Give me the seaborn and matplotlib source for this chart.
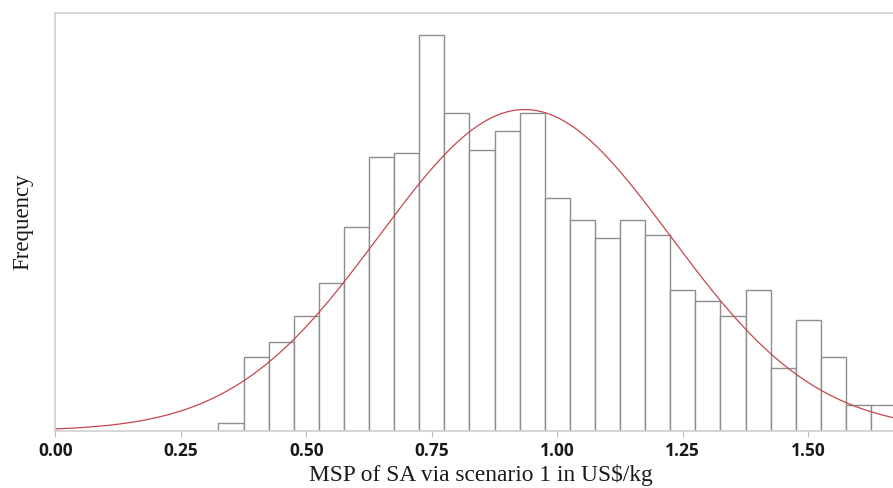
import numpy as np
import pandas as pd
import matplotlib
matplotlib.use("Agg")
import matplotlib.pyplot as plt
import seaborn as sns

# Bin midpoints (US$/kg) and frequencies
bin_mids = [0.35, 0.40, 0.45, 0.50, 0.55, 0.60, 0.65, 0.70, 0.75, 0.80,
            0.85, 0.90, 0.95, 1.00, 1.05, 1.10, 1.15, 1.20, 1.25, 1.30,
            1.35, 1.40, 1.45, 1.50, 1.55, 1.60, 1.65]
counts = [2, 20, 24, 31, 40, 55, 74, 75, 107, 86,
          76, 81, 86, 63, 57, 52, 57, 53, 38, 35,
          31, 38, 17, 30, 20, 7, 7]
bin_width = 0.05

# Fitted normal distribution parameters
fit_mean = 0.935
fit_sd = 0.29

x_ticks = [0.00, 0.25, 0.50, 0.75, 1.00, 1.25, 1.50]
x_tick_labels = ["0.00", "0.25", "0.50", "0.75", "1.00", "1.25", "1.50"]
x_label = "MSP of SA via scenario 1 in US$/kg"
y_label = "Frequency"

sns.set_theme(style="white")
plt.rcParams['font.family'] = ['DejaVu Sans']

fig = plt.figure(figsize=(8.93, 4.88), dpi=100)
ax = fig.add_axes([55.3 / 893, 1 - 430.7 / 488, 1 - 55.3 / 893, (430.7 - 13) / 488])

df = pd.DataFrame({"mid": bin_mids, "count": counts})
sns.histplot(data=df, x="mid", weights="count", binwidth=bin_width,
             binrange=(bin_mids[0] - bin_width / 2, bin_mids[-1] + bin_width / 2),
             ax=ax, stat="count", color="white", edgecolor="#8e8e8e",
             linewidth=1.0, alpha=1.0)

xs = np.linspace(0, 1.7, 400)
n_total = sum(counts)
pdf = np.exp(-0.5 * ((xs - fit_mean) / fit_sd) ** 2) / (fit_sd * np.sqrt(2 * np.pi))
curve = pd.DataFrame({"x": xs, "y": n_total * bin_width * pdf})
sns.lineplot(data=curve, x="x", y="y", ax=ax, color="#c4474d", linewidth=0.9)

ax.set_xlim(0, 837.7 / 502)
ax.set_ylim(0, 417.7 / 3.7)

ax.set_xticks(x_ticks)
ax.set_xticklabels(x_tick_labels, fontsize=12.5, fontweight="bold",
                   family=["Open Sans", "DejaVu Sans"], color="#1a1a1a")
ax.set_yticks([])
ax.tick_params(axis="x", direction="out", length=4, width=0.8, color="#bdbdbd", pad=4, bottom=True)

ax.set_xlabel(x_label, fontsize=16.8, family="Liberation Serif", color="#1a1a1a", labelpad=3)
ax.xaxis.label.set_x(0.5075)
ax.set_ylabel(y_label, fontsize=16.5, family="Liberation Serif", color="#1a1a1a", labelpad=16)

for side in ["left", "top", "bottom"]:
    ax.spines[side].set_visible(True)
    ax.spines[side].set_color("#cfcfcf")
    ax.spines[side].set_linewidth(1.2)
ax.spines["right"].set_visible(False)

fig.savefig("out.png", dpi=100)
